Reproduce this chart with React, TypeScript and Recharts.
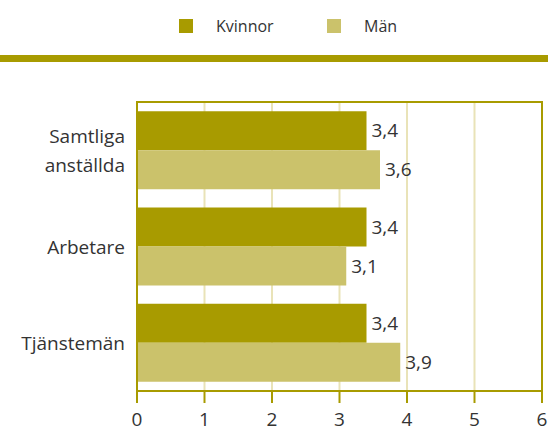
import React from 'react';
import { BarChart, Bar, XAxis, YAxis, CartesianGrid, LabelList, Legend, ReferenceArea } from 'recharts';

const categories = ['Samtliga anställda', 'Arbetare', 'Tjänstemän'];
const kvinnor = [3.4, 3.4, 3.4];
const man = [3.6, 3.1, 3.9];
const xTicks = [0, 1, 2, 3, 4, 5, 6];
const seriesNames = ['Kvinnor', 'Män'];

const OLIVE = '#a89b00';
const LIGHT = '#cbc26b';
const GRID = '#e9e3b8';
const TEXT = '#333333';
const FONT = '"Open Sans", sans-serif';

const data = categories.map((c, i) => ({ name: c, kvinnor: kvinnor[i], man: man[i] }));

const fmt = (v: any) => String(v).replace('.', ',');

const CategoryTick = (props: any) => {
  const { x, y, payload } = props;
  const words = String(payload.value).split(' ');
  const lineH = 29;
  const startDy = -((words.length - 1) * lineH) / 2 + 7.5;
  return (
    <text x={x} y={y} textAnchor="end" fill={TEXT} fontSize={19} fontFamily={FONT}>
      {words.map((w, i) => (
        <tspan key={i} x={x} dy={i === 0 ? startDy : lineH}>{w}</tspan>
      ))}
    </text>
  );
};

const LegendContent = () => (
  <div style={{ position: 'relative', width: 548, height: 70 }}>
    <div style={{ position: 'absolute', left: 179, top: 19, width: 14, height: 14, background: OLIVE }} />
    <div style={{ position: 'absolute', left: 216, top: 15, fontSize: 16, color: TEXT, fontFamily: FONT, lineHeight: '22px' }}>{seriesNames[0]}</div>
    <div style={{ position: 'absolute', left: 327, top: 19, width: 14, height: 14, background: LIGHT }} />
    <div style={{ position: 'absolute', left: 364, top: 15, fontSize: 16, color: TEXT, fontFamily: FONT, lineHeight: '22px' }}>{seriesNames[1]}</div>
    <div style={{ position: 'absolute', left: 0, top: 55, width: 548, height: 7, background: OLIVE }} />
  </div>
);

export default function App() {
  return (
    <div style={{ position: 'absolute', left: 0, top: 0, width: 548, height: 431, background: '#fff' }}>
      <BarChart
        width={548}
        height={431}
        data={data}
        layout="vertical"
        margin={{ top: 102, right: 6, bottom: 0, left: 0 }}
        barCategoryGap="9.5%"
        barGap={0}
      >
        <CartesianGrid horizontal={false} stroke={GRID} strokeWidth={2} />
        <XAxis
          type="number"
          domain={[0, 6]}
          ticks={xTicks}
          interval={0}
          height={40}
          tickSize={12}
          tickMargin={10}
          axisLine={{ stroke: OLIVE, strokeWidth: 2 }}
          tickLine={{ stroke: OLIVE, strokeWidth: 2 }}
          tick={{ fill: TEXT, fontSize: 19, fontFamily: FONT }}
        />
        <YAxis
          type="category"
          dataKey="name"
          width={137}
          tickLine={false}
          tickSize={0}
          tickMargin={12}
          axisLine={{ stroke: OLIVE, strokeWidth: 2 }}
          tick={<CategoryTick />}
        />
        <ReferenceArea x1={0} x2={6} fill="none" fillOpacity={0} stroke={OLIVE} strokeWidth={2} ifOverflow="visible" />
        <Legend
          layout="horizontal"
          verticalAlign="middle"
          align="center"
          content={<LegendContent />}
          wrapperStyle={{ top: 0, left: 0, width: 548, height: 70 }}
        />
        <Bar dataKey="kvinnor" name={seriesNames[0]} fill={OLIVE} isAnimationActive={false}>
          <LabelList dataKey="kvinnor" position="right" offset={5} fill={TEXT} fontSize={19} fontFamily={FONT} formatter={fmt} />
        </Bar>
        <Bar dataKey="man" name={seriesNames[1]} fill={LIGHT} isAnimationActive={false}>
          <LabelList dataKey="man" position="right" offset={5} fill={TEXT} fontSize={19} fontFamily={FONT} formatter={fmt} />
        </Bar>
      </BarChart>
    </div>
  );
}
